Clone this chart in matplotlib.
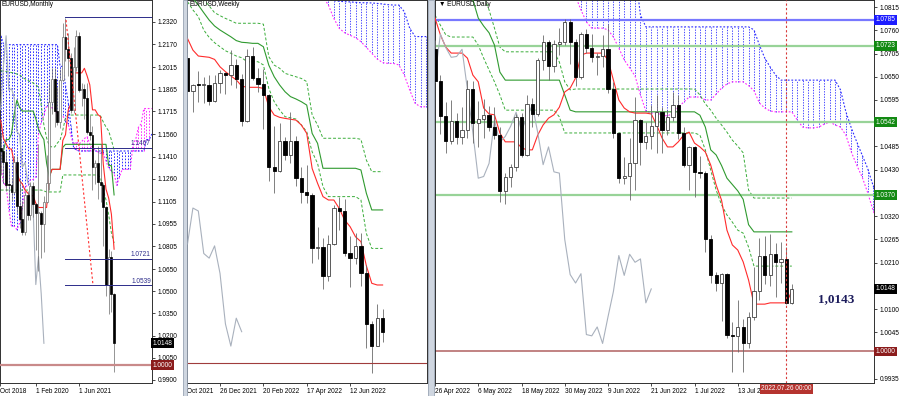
import numpy as np
import matplotlib
matplotlib.use("Agg")
import matplotlib.pyplot as plt
from matplotlib.patches import Rectangle
from matplotlib.transforms import blended_transform_factory

plt.rcParams['font.family'] = ['Liberation Sans', 'DejaVu Sans']

W, H = 900, 396

# ---------------- monthly EURUSD, Jan 2019 .. Jul 2022 ----------------
m_open = [1.1467, 1.1445, 1.1372, 1.1217, 1.1215, 1.1169, 1.1371, 1.1075, 1.0985, 1.0899, 1.1152, 1.1017,
          1.1213, 1.1092, 1.1026, 1.1031, 1.0955, 1.1101, 1.1233, 1.1778, 1.1936, 1.1721, 1.1646, 1.1926,
          1.2216, 1.2136, 1.2075, 1.1728, 1.2019, 1.2227, 1.1858, 1.1869, 1.1809, 1.1579, 1.1558, 1.1338,
          1.1370, 1.1235, 1.1218, 1.1067, 1.0545, 1.0734, 1.0484]
m_high = [1.1570, 1.1489, 1.1448, 1.1324, 1.1265, 1.1412, 1.1412, 1.1250, 1.1109, 1.1179, 1.1175, 1.1240,
          1.1239, 1.1096, 1.1495, 1.1039, 1.1146, 1.1422, 1.1909, 1.2011, 1.2011, 1.1881, 1.2004, 1.2310,
          1.2349, 1.2243, 1.2113, 1.2150, 1.2266, 1.2254, 1.1909, 1.1900, 1.1909, 1.1692, 1.1616, 1.1386,
          1.1483, 1.1495, 1.1233, 1.1077, 1.0787, 1.0773, 1.0487]
m_low = [1.1289, 1.1234, 1.1176, 1.1110, 1.1107, 1.1160, 1.1027, 1.0926, 1.0879, 1.0879, 1.0981, 1.0981,
         1.1001, 1.0778, 1.0636, 1.0727, 1.0767, 1.1097, 1.1186, 1.1696, 1.1612, 1.1622, 1.1603, 1.1924,
         1.2054, 1.1952, 1.1704, 1.1704, 1.1986, 1.1847, 1.1752, 1.1664, 1.1563, 1.1524, 1.1186, 1.1222,
         1.1121, 1.1106, 1.0806, 1.0471, 1.0349, 1.0359, 0.9952]
m_close = [1.1445, 1.1372, 1.1217, 1.1215, 1.1169, 1.1371, 1.1075, 1.0985, 1.0899, 1.1152, 1.1017, 1.1213,
           1.1092, 1.1026, 1.1031, 1.0955, 1.1101, 1.1233, 1.1778, 1.1936, 1.1721, 1.1646, 1.1926, 1.2216,
           1.2136, 1.2075, 1.1728, 1.2019, 1.2227, 1.1858, 1.1869, 1.1809, 1.1579, 1.1558, 1.1338, 1.1370,
           1.1235, 1.1218, 1.1067, 1.0545, 1.0734, 1.0484, 1.0148]
m_tenkan = [1.1656, 1.1534, 1.1496, 1.1463, 1.1461, 1.1366, 1.1299, 1.1248, 1.1225, 1.1184, 1.1164, 1.1146,
            1.1146, 1.1095, 1.1066, 1.1066, 1.1066, 1.1066, 1.1273, 1.1324, 1.1324, 1.1324, 1.1324, 1.1519,
            1.1558, 1.1723, 1.1768, 1.1976, 1.1976, 1.1976, 1.1976, 1.2007, 1.1956, 1.1895, 1.1726, 1.1726,
            1.1694, 1.1680, 1.1358, 1.1190, 1.1129, 1.1021, 1.0784]
m_kijun = [1.1448, 1.1448, 1.1525, 1.1525, 1.1563, 1.1698, 1.1792, 1.1741, 1.1718, 1.1718, 1.1718, 1.1718,
           1.1718, 1.1667, 1.1596, 1.1556, 1.1525, 1.1366, 1.1273, 1.1324, 1.1324, 1.1324, 1.1324, 1.1473,
           1.1493, 1.1493, 1.1493, 1.1493, 1.1493, 1.1493, 1.1493, 1.1493, 1.1493, 1.1493, 1.1493, 1.1493,
           1.1493, 1.1493, 1.1493, 1.1493, 1.1349, 1.1349, 1.1151]
m_level_hi = [1.1990, 1.1988, 1.1985, 1.1982, 1.1978, 1.1975, 1.1968, 1.1962, 1.1948, 1.1935, 1.1928, 1.1914,
              1.1908, 1.1894, 1.1881, 1.1759, 1.1624, 1.1536, 1.1482, 1.1475, 1.1475, 1.1502, 1.1522, 1.1590,
              1.1671, 1.1691, 1.1691, 1.1691, 1.1691, 1.1691, 1.1691, 1.1691, 1.1691, 1.1691, 1.1691, 1.1691,
              1.1691, 1.1684, 1.1644, 1.1610, 1.1583, 1.1522, 1.1455]
m_level_lo = [1.1184, 1.1184, 1.1184, 1.1184, 1.1184, 1.1184, 1.1184, 1.1184, 1.1184, 1.1184, 1.1184, 1.1184,
              1.1184, 1.1184, 1.1184, 1.1184, 1.1178, 1.1171, 1.1171, 1.1171, 1.1171, 1.1171, 1.1171, 1.1286,
              1.1286, 1.1286, 1.1286, 1.1286, 1.1286, 1.1286, 1.1286, 1.1286, 1.1286, 1.1286, 1.1286, 1.1286,
              1.1286, 1.1265, 1.1184, 1.1117, 1.1015, 1.0894, 1.0826]
m_span_a = [1.1371, 1.1230, 1.1217, 1.1052, 1.0940, 1.0940, 1.0916, 1.0960, 1.1059, 1.1205, 1.1216, 1.1255,
            1.1255, 1.1274, 1.1563, 1.1643, 1.1691, 1.1752, 1.1741, 1.1740, 1.1740, 1.1688, 1.1688, 1.1688,
            1.1647, 1.1632, 1.1552, 1.1491, 1.1511, 1.1494, 1.1512, 1.1532, 1.1546, 1.1495, 1.1472, 1.1451,
            1.1441, 1.1432, 1.1432, 1.1381, 1.1331, 1.1311, 1.1296, 1.1216, 1.1273, 1.1324, 1.1324, 1.1324,
            1.1324, 1.1496, 1.1526, 1.1608, 1.1631, 1.1735, 1.1735, 1.1735, 1.1735]
m_span_b = [1.2228, 1.2173, 1.2167, 1.2167, 1.2167, 1.2167, 1.2167, 1.2167, 1.2167, 1.2167, 1.2167, 1.2167,
            1.2167, 1.2167, 1.2167, 1.2167, 1.2167, 1.2167, 1.2167, 1.2167, 1.2167, 1.2167, 1.2020, 1.2020,
            1.1892, 1.1781, 1.1614, 1.1470, 1.1455, 1.1448, 1.1448, 1.1448, 1.1448, 1.1448, 1.1448, 1.1448,
            1.1448, 1.1448, 1.1448, 1.1448, 1.1448, 1.1448, 1.1448, 1.1448, 1.1448, 1.1448, 1.1448, 1.1448,
            1.1448, 1.1448, 1.1448, 1.1448, 1.1448, 1.1448, 1.1525, 1.1525, 1.1563]
m_hlines = [1.2353, 1.1467, 1.0721, 1.0539]
m_hline_labels = ["", "1.1467", "1.0721", "1.0539"]
m_hline_start = 24
m_trend_x = [24.2, 34.2]
m_trend_y = [1.2333, 1.0539]
m_ticks = [1.2320, 1.2170, 1.2015, 1.1865, 1.1715, 1.1560, 1.1410, 1.1260, 1.1105, 1.0955, 1.0805,
           1.0650, 1.0500, 1.0350, 1.0200, 1.0050, 0.9900]
m_date_pos = [-0.26, 13, 29]
m_date_lab = ["Oct 2018", "1 Feb 2020", "1 Jun 2021"]

# ---------------- weekly EURUSD, 14 Nov 2021 .. 24 Jul 2022 ----------------
w_open = [1.1444, 1.1288, 1.1317, 1.1315, 1.1317, 1.1239, 1.1323, 1.1370, 1.1360, 1.1411, 1.1344, 1.1144,
          1.1452, 1.1349, 1.1321, 1.1270, 1.0928, 1.0910, 1.1050, 1.0983, 1.1049, 1.0876, 1.0807, 1.0797,
          1.0545, 1.0550, 1.0413, 1.0563, 1.0733, 1.0719, 1.0518, 1.0496, 1.0554, 1.0424, 1.0185, 1.0080, 1.0212]
w_high = [1.1464, 1.1320, 1.1383, 1.1355, 1.1360, 1.1360, 1.1386, 1.1375, 1.1482, 1.1438, 1.1369, 1.1483,
          1.1495, 1.1395, 1.1390, 1.1274, 1.1121, 1.1137, 1.1070, 1.1185, 1.1076, 1.0925, 1.0936, 1.0805,
          1.0641, 1.0593, 1.0607, 1.0749, 1.0787, 1.0774, 1.0601, 1.0614, 1.0615, 1.0463, 1.0200, 1.0278, 1.0254]
w_low = [1.1249, 1.1186, 1.1235, 1.1228, 1.1222, 1.1235, 1.1279, 1.1272, 1.1313, 1.1300, 1.1121, 1.1140,
         1.1339, 1.1282, 1.1106, 1.0862, 1.0806, 1.0902, 1.0961, 1.0945, 1.0837, 1.0757, 1.0758, 1.0471,
         1.0493, 1.0349, 1.0389, 1.0560, 1.0628, 1.0508, 1.0359, 1.0470, 1.0365, 1.0072, 0.9952, 1.0079, 1.0097]
w_close = [1.1288, 1.1317, 1.1315, 1.1317, 1.1239, 1.1323, 1.1370, 1.1360, 1.1411, 1.1344, 1.1144, 1.1452,
           1.1349, 1.1321, 1.1270, 1.0928, 1.0910, 1.1050, 1.0983, 1.1049, 1.0876, 1.0807, 1.0797, 1.0545,
           1.0550, 1.0413, 1.0563, 1.0733, 1.0719, 1.0518, 1.0496, 1.0554, 1.0424, 1.0185, 1.0080, 1.0212, 1.0148]
w_tenkan = [1.1535, 1.1480, 1.1452, 1.1449, 1.1446, 1.1436, 1.1401, 1.1378, 1.1358, 1.1339, 1.1310, 1.1304,
            1.1304, 1.1304, 1.1299, 1.1212, 1.1173, 1.1162, 1.1157, 1.1153, 1.1149, 1.1126, 1.1086, 1.0920,
            1.0850, 1.0787, 1.0771, 1.0771, 1.0731, 1.0676, 1.0645, 1.0597, 1.0574, 1.0460, 1.0377, 1.0369, 1.0369]
w_kijun = [1.1756, 1.1725, 1.1693, 1.1657, 1.1622, 1.1594, 1.1575, 1.1559, 1.1543, 1.1525, 1.1517, 1.1515,
           1.1512, 1.1512, 1.1496, 1.1409, 1.1354, 1.1315, 1.1283, 1.1260, 1.1249, 1.1236, 1.1220, 1.1086,
           1.1039, 1.0921, 1.0921, 1.0921, 1.0921, 1.0921, 1.0921, 1.0921, 1.0913, 1.0803, 1.0724, 1.0724, 1.0724]
w_level_hi = [1.1812, 1.1780, 1.1741, 1.1720, 1.1689, 1.1657, 1.1643, 1.1630, 1.1619, 1.1607, 1.1607, 1.1607,
              1.1607, 1.1607, 1.1603, 1.1449, 1.1409, 1.1394, 1.1370, 1.1362, 1.1354, 1.1346, 1.1331, 1.1173,
              1.1126, 1.1063, 1.1063, 1.1063, 1.1063, 1.1063, 1.1063, 1.1063, 1.1058, 1.0960, 1.0905, 1.0905, 1.0905]
w_level_lo = [1.1709, 1.1670, 1.1638, 1.1575, 1.1540, 1.1515, 1.1496, 1.1477, 1.1465, 1.1452, 1.1444, 1.1425,
              1.1425, 1.1425, 1.1410, 1.1299, 1.1236, 1.1197, 1.1165, 1.1160, 1.1154, 1.1126, 1.1094, 1.0999,
              1.0944, 1.0834, 1.0787, 1.0787, 1.0787, 1.0787, 1.0787, 1.0787, 1.0771, 1.0613, 1.0542, 1.0542, 1.0542]
w_cloud_start = 25
w_span_a = [1.1733, 1.1693, 1.1630, 1.1583, 1.1562, 1.1550, 1.1539, 1.1520, 1.1493, 1.1465, 1.1438, 1.1421,
            1.1417, 1.1417, 1.1410, 1.1362, 1.1291, 1.1228, 1.1212, 1.1212, 1.1212]
w_span_b = [1.1749, 1.1717, 1.1714, 1.1711, 1.1709, 1.1708, 1.1706, 1.1704, 1.1704, 1.1703, 1.1701, 1.1698,
            1.1695, 1.1693, 1.1693, 1.1662, 1.1583, 1.1544, 1.1544, 1.1544, 1.1544]
w_date_pos = [-0.09, 6, 14, 22, 30]
w_date_lab = ["Oct 2021", "26 Dec 2021", "20 Feb 2022", "17 Apr 2022", "12 Jun 2022"]

# ---------------- daily EURUSD, 26 Apr 2022 .. 27 Jul 2022 ----------------
d_open = [1.0715, 1.0640, 1.0557, 1.0497, 1.0545, 1.0507, 1.0523, 1.0622, 1.0541, 1.0551, 1.0560, 1.0530,
          1.0513, 1.0380, 1.0412, 1.0437, 1.0554, 1.0464, 1.0585, 1.0561, 1.0690, 1.0733, 1.0676, 1.0727,
          1.0732, 1.0780, 1.0733, 1.0650, 1.0751, 1.0719, 1.0696, 1.0698, 1.0715, 1.0620, 1.0518, 1.0410,
          1.0414, 1.0445, 1.0547, 1.0495, 1.0509, 1.0533, 1.0566, 1.0523, 1.0554, 1.0583, 1.0518, 1.0442,
          1.0484, 1.0425, 1.0422, 1.0265, 1.0182, 1.0162, 1.0184, 1.0040, 1.0037, 1.0058, 1.0019, 1.0082,
          1.0142, 1.0227, 1.0180, 1.0230, 1.0211, 1.0219, 1.0115]
d_high = [1.0737, 1.0654, 1.0591, 1.0594, 1.0565, 1.0578, 1.0642, 1.0641, 1.0592, 1.0598, 1.0580, 1.0578,
          1.0530, 1.0422, 1.0444, 1.0563, 1.0564, 1.0608, 1.0599, 1.0695, 1.0748, 1.0737, 1.0737, 1.0765,
          1.0787, 1.0786, 1.0739, 1.0755, 1.0764, 1.0750, 1.0707, 1.0748, 1.0774, 1.0637, 1.0519, 1.0460,
          1.0506, 1.0601, 1.0550, 1.0544, 1.0582, 1.0606, 1.0579, 1.0572, 1.0615, 1.0606, 1.0532, 1.0486,
          1.0487, 1.0463, 1.0428, 1.0276, 1.0188, 1.0186, 1.0185, 1.0070, 1.0122, 1.0078, 1.0094, 1.0200,
          1.0269, 1.0273, 1.0278, 1.0256, 1.0258, 1.0248, 1.0160]
d_low = [1.0637, 1.0514, 1.0470, 1.0491, 1.0490, 1.0492, 1.0505, 1.0493, 1.0484, 1.0504, 1.0521, 1.0503,
         1.0354, 1.0349, 1.0389, 1.0428, 1.0460, 1.0462, 1.0532, 1.0558, 1.0666, 1.0642, 1.0662, 1.0701,
         1.0725, 1.0680, 1.0627, 1.0644, 1.0707, 1.0684, 1.0653, 1.0674, 1.0612, 1.0506, 1.0398, 1.0397,
         1.0359, 1.0382, 1.0442, 1.0479, 1.0480, 1.0469, 1.0469, 1.0511, 1.0546, 1.0503, 1.0436, 1.0382,
         1.0365, 1.0410, 1.0236, 1.0162, 1.0144, 1.0072, 1.0031, 0.9952, 0.9998, 0.9952, 1.0008, 1.0074,
         1.0122, 1.0160, 1.0154, 1.0130, 1.0162, 1.0112, 1.0112]
d_close = [1.0640, 1.0557, 1.0497, 1.0545, 1.0507, 1.0523, 1.0622, 1.0541, 1.0551, 1.0560, 1.0530, 1.0513,
           1.0380, 1.0412, 1.0437, 1.0554, 1.0464, 1.0585, 1.0561, 1.0690, 1.0733, 1.0676, 1.0727, 1.0732,
           1.0780, 1.0733, 1.0650, 1.0751, 1.0719, 1.0696, 1.0698, 1.0715, 1.0620, 1.0518, 1.0410, 1.0414,
           1.0445, 1.0547, 1.0495, 1.0509, 1.0533, 1.0566, 1.0523, 1.0554, 1.0583, 1.0518, 1.0442, 1.0484,
           1.0425, 1.0422, 1.0265, 1.0182, 1.0162, 1.0184, 1.0040, 1.0037, 1.0058, 1.0019, 1.0082, 1.0142,
           1.0227, 1.0180, 1.0230, 1.0211, 1.0219, 1.0115, 1.0148]
d_tenkan = [1.0789, 1.0749, 1.0720, 1.0706, 1.0706, 1.0706, 1.0694, 1.0654, 1.0638, 1.0576, 1.0562, 1.0560,
            1.0517, 1.0496, 1.0496, 1.0496, 1.0482, 1.0477, 1.0477, 1.0512, 1.0536, 1.0552, 1.0560, 1.0578,
            1.0614, 1.0623, 1.0647, 1.0701, 1.0706, 1.0706, 1.0706, 1.0706, 1.0690, 1.0642, 1.0595, 1.0576,
            1.0567, 1.0564, 1.0564, 1.0564, 1.0562, 1.0536, 1.0505, 1.0484, 1.0484, 1.0496, 1.0512, 1.0519,
            1.0493, 1.0484, 1.0472, 1.0441, 1.0394, 1.0358, 1.0287, 1.0252, 1.0240, 1.0212, 1.0169, 1.0112,
            1.0112, 1.0112, 1.0115, 1.0115, 1.0115, 1.0115, 1.0143]
d_kijun = [1.0911, 1.0911, 1.0911, 1.0911, 1.0911, 1.0911, 1.0911, 1.0832, 1.0789, 1.0770, 1.0754, 1.0725,
           1.0661, 1.0642, 1.0642, 1.0642, 1.0642, 1.0642, 1.0642, 1.0642, 1.0642, 1.0642, 1.0642, 1.0642,
           1.0607, 1.0571, 1.0567, 1.0567, 1.0567, 1.0567, 1.0567, 1.0567, 1.0567, 1.0567, 1.0567, 1.0567,
           1.0567, 1.0567, 1.0567, 1.0567, 1.0567, 1.0567, 1.0567, 1.0567, 1.0567, 1.0567, 1.0567, 1.0567,
           1.0567, 1.0559, 1.0531, 1.0477, 1.0465, 1.0440, 1.0410, 1.0395, 1.0380, 1.0360, 1.0300, 1.0283,
           1.0283, 1.0283, 1.0283, 1.0283, 1.0283, 1.0283, 1.0283]
d_level_hi = [1.0900, 1.0900, 1.0900, 1.0900, 1.0900, 1.0900, 1.0900, 1.0900, 1.0900, 1.0843, 1.0808, 1.0765,
              1.0720, 1.0709, 1.0709, 1.0709, 1.0709, 1.0709, 1.0709, 1.0709, 1.0709, 1.0709, 1.0709, 1.0685,
              1.0638, 1.0619, 1.0621, 1.0621, 1.0621, 1.0621, 1.0621, 1.0621, 1.0621, 1.0621, 1.0621, 1.0621,
              1.0621, 1.0621, 1.0621, 1.0621, 1.0621, 1.0621, 1.0621, 1.0621, 1.0621, 1.0621, 1.0621, 1.0621,
              1.0621, 1.0607, 1.0586, 1.0571, 1.0552, 1.0536, 1.0519, 1.0500, 1.0486, 1.0470, 1.0382, 1.0363,
              1.0363, 1.0363, 1.0363, 1.0363, 1.0363, 1.0363, 1.0363]
d_level_lo = [1.0796, 1.0772, 1.0749, 1.0744, 1.0744, 1.0744, 1.0744, 1.0744, 1.0725, 1.0694, 1.0666, 1.0638,
              1.0607, 1.0571, 1.0571, 1.0571, 1.0571, 1.0571, 1.0571, 1.0571, 1.0571, 1.0571, 1.0571, 1.0555,
              1.0517, 1.0517, 1.0517, 1.0517, 1.0517, 1.0517, 1.0517, 1.0517, 1.0517, 1.0517, 1.0517, 1.0517,
              1.0517, 1.0517, 1.0517, 1.0517, 1.0517, 1.0517, 1.0517, 1.0517, 1.0517, 1.0517, 1.0517, 1.0517,
              1.0517, 1.0512, 1.0477, 1.0429, 1.0382, 1.0347, 1.0323, 1.0306, 1.0287, 1.0280, 1.0247, 1.0202,
              1.0202, 1.0202, 1.0202, 1.0202, 1.0202, 1.0202, 1.0202]
d_span_a = [1.0890] * 26 + [
    1.0840, 1.0808, 1.0780, 1.0765, 1.0765, 1.0765, 1.0761, 1.0744, 1.0718, 1.0690, 1.0671, 1.0652,
    1.0607, 1.0569, 1.0564, 1.0564, 1.0560, 1.0557, 1.0564, 1.0578, 1.0590, 1.0602, 1.0602, 1.0602,
    1.0595, 1.0595, 1.0609, 1.0623, 1.0633, 1.0638, 1.0638, 1.0638, 1.0629, 1.0617, 1.0588, 1.0576,
    1.0569, 1.0567, 1.0567, 1.0567, 1.0567, 1.0548, 1.0531, 1.0529, 1.0529, 1.0531, 1.0538, 1.0543,
    1.0536, 1.0531, 1.0512, 1.0472, 1.0441, 1.0413, 1.0377, 1.0335, 1.0299]
d_span_b = [1.0900] * 38 + [
    1.0796, 1.0768, 1.0768, 1.0768, 1.0768, 1.0768, 1.0768, 1.0768, 1.0768, 1.0768, 1.0768, 1.0768,
    1.0768, 1.0768, 1.0768, 1.0768, 1.0768, 1.0768, 1.0768, 1.0768, 1.0768, 1.0761, 1.0725, 1.0694,
    1.0673, 1.0654, 1.0642, 1.0642, 1.0642, 1.0642, 1.0642, 1.0642, 1.0642, 1.0642, 1.0642, 1.0642,
    1.0642, 1.0619, 1.0567, 1.0529, 1.0496, 1.0465, 1.0434, 1.0394, 1.0358]
d_levels = [1.0785, 1.0723, 1.0542, 1.0370, 1.0000]
d_level_kind = ["blue", "green", "green", "green", "red"]
d_ticks = [1.0815, 1.0760, 1.0705, 1.0650, 1.0595, 1.0485, 1.0430, 1.0320, 1.0265,
           1.0210, 1.0100, 1.0045, 0.9935]
d_date_pos = [0, 8, 16, 24, 32, 40, 48, 56]
d_date_lab = ["26 Apr 2022", "6 May 2022", "18 May 2022", "30 May 2022", "9 Jun 2022",
              "21 Jun 2022", "1 Jul 2022", "13 Jul 2022"]
d_cursor = 65
d_cursor_lab = "2022.07.26 00:00"
last_price = 1.0148
tenkan_note = "1,0143"

# ---------------- styles ----------------
FS = 4.7
RED = '#ff2b2b'
GREEN = '#2f9a2f'
GREEN_D = '#3aad3a'
CHIKOU = '#a9b1bd'
CL_BLUE = '#2b2bff'
CL_MAG = '#ff2bff'
WICK = '#6a6a6a'
DOT = (0, (1.6, 1.6))
DASH = (0, (3, 2))


def px_axes(fig, x0, y0, x1, y1):
    return fig.add_axes([x0 / W, 1 - y1 / H, (x1 - x0) / W, (y1 - y0) / H])


def draw_candles(ax, o, h, l, c, width, min_body, edge='#404040', lw=0.6):
    x = np.arange(len(o))
    o, h, l, c = map(np.asarray, (o, h, l, c))
    ax.vlines(x, l, h, colors=WICK, lw=lw, zorder=4)
    lo = np.minimum(o, c)
    ht = np.maximum(np.abs(c - o), min_body)
    bull = c >= o
    ax.bar(x[bull], ht[bull], width, bottom=lo[bull], color='white', edgecolor=edge, lw=lw, zorder=5)
    ax.bar(x[~bull], ht[~bull], width, bottom=lo[~bull], color='black', edgecolor='black', lw=lw, zorder=5)


def draw_cloud(ax, start, a, b, lw=0.6):
    x = np.arange(len(a)) + start
    a = np.asarray(a)
    b = np.asarray(b)
    dn = b >= a
    ax.vlines(x[dn], a[dn], b[dn], colors=CL_BLUE, linestyles=[DOT], lw=lw, zorder=1)
    ax.vlines(x[~dn], b[~dn], a[~dn], colors=CL_MAG, linestyles=[DOT], lw=lw, zorder=1)
    ax.plot(x, b, color=CL_BLUE, ls=DOT, lw=0.8, zorder=1)
    ax.plot(x, a, color=CL_MAG, ls=DOT, lw=0.8, zorder=1)


def ichimoku_lines(ax, tenkan, kijun, lvl_hi, lvl_lo, close, lw=0.8):
    x = np.arange(len(tenkan))
    ax.plot(x, lvl_hi, color=GREEN_D, ls=DASH, lw=0.7, zorder=2)
    ax.plot(x, lvl_lo, color=GREEN_D, ls=DASH, lw=0.7, zorder=2)
    ax.plot(x, kijun, color=GREEN, lw=lw, zorder=3)
    ax.plot(x, tenkan, color=RED, lw=lw, zorder=3)
    chik = close[26:]
    ax.plot(np.arange(len(chik)), chik, color=CHIKOU, lw=lw, zorder=3)


def frame(ax, title, date_pos, date_lab):
    for s in ax.spines.values():
        s.set_color('#303030')
        s.set_linewidth(0.7)
    ax.text(0.01, 0.997, title, transform=ax.transAxes, va='top', ha='left', fontsize=FS, zorder=20)
    ax.set_xticks(date_pos)
    ax.set_xticklabels(date_lab, ha='left', fontsize=FS)
    ax.tick_params(axis='x', direction='out', length=2, width=0.5, pad=1.5)


def price_box(ax, y, text, fc):
    ax.text(1.004, y, text, transform=ax.get_yaxis_transform(), ha='left', va='center',
            fontsize=FS, color='white', zorder=30, clip_on=False,
            bbox=dict(boxstyle='square,pad=0.22', fc=fc, ec='none'))


fig = plt.figure(figsize=(W / 100, H / 100), dpi=100)
fig.patch.set_facecolor('white')
for x0, x1 in [(183, 187), (428, 434)]:
    fig.add_artist(Rectangle((x0 / W, 0), (x1 - x0) / W, 1, transform=fig.transFigure,
                             fc='#cfd6e0', ec='#8a96a8', lw=0.5))

# ---- monthly panel ----
axm = px_axes(fig, 0, 0, 152, 383)
axm.set_xlim(-0.26, 56.04)
axm.set_ylim(0.98796, 1.24687)
draw_cloud(axm, 0, m_span_a, m_span_b, lw=0.7)
ichimoku_lines(axm, m_tenkan, m_kijun, m_level_hi, m_level_lo, m_close)
draw_candles(axm, m_open, m_high, m_low, m_close, 0.7, 0.0007, edge='#707070', lw=0.5)
for y, lab in zip(m_hlines, m_hline_labels):
    axm.plot([m_hline_start, 56.04], [y, y], color='#2c2c8a', lw=0.7, zorder=6)
    if lab:
        axm.text(55.6, y + 0.0006, lab, ha='right', va='bottom', fontsize=FS, color='#2c2c8a', zorder=7)
axm.plot(m_trend_x, m_trend_y, color=RED, ls=(0, (2, 2)), lw=0.8, zorder=6)
axm.axhline(1.0, color='#c98a8a', lw=1.6, zorder=6)
axm.yaxis.tick_right()
axm.set_yticks(m_ticks)
axm.set_yticklabels([f"{v:.4f}" for v in m_ticks], fontsize=FS)
axm.tick_params(axis='y', direction='out', length=2, width=0.5, pad=2)
frame(axm, "EURUSD,Monthly", m_date_pos, m_date_lab)
price_box(axm, last_price, f"{last_price:.4f}", 'black')
price_box(axm, 1.0, "1.0000", '#8b1c1c')

# ---- weekly panel ----
axw = px_axes(fig, 187, 0, 427, 383)
axw.set_xlim(-0.09, 44.19)
axw.set_ylim(0.99054, 1.1717)
draw_cloud(axw, w_cloud_start, w_span_a, w_span_b)
ichimoku_lines(axw, w_tenkan, w_kijun, w_level_hi, w_level_lo, w_close)
draw_candles(axw, w_open, w_high, w_low, w_close, 0.62, 0.0005)
axw.axhline(1.0, color='#a03c3c', lw=0.8, zorder=6)
axw.set_yticks([])
frame(axw, "EURUSD,Weekly", w_date_pos, w_date_lab)

# ---- daily panel ----
axd = px_axes(fig, 435, 0, 874, 383)
axd.set_xlim(0.37, 81.2)
axd.set_ylim(0.99254, 1.08316)
draw_cloud(axd, 0, d_span_a, d_span_b)
ichimoku_lines(axd, d_tenkan, d_kijun, d_level_hi, d_level_lo, d_close)
draw_candles(axd, d_open, d_high, d_low, d_close, 0.6, 0.00025)
lvl_color = {"blue": '#7878ff', "green": '#98d398', "red": '#b06060'}
box_color = {"blue": '#1c1cff', "green": '#138a13', "red": '#8b1c1c'}
for y, kind in zip(d_levels, d_level_kind):
    axd.axhline(y, color=lvl_color[kind], lw=1.6 if kind != "red" else 1.1, zorder=2)
axd.axvline(d_cursor, color='#d83a3a', ls=(0, (2, 2)), lw=0.8, zorder=7)
axd.yaxis.tick_right()
axd.set_yticks(d_ticks)
axd.set_yticklabels([f"{v:.4f}" for v in d_ticks], fontsize=FS)
axd.tick_params(axis='y', direction='out', length=2, width=0.5, pad=2)
frame(axd, "\u25bc EURUSD,Daily", d_date_pos, d_date_lab)
for y, kind in zip(d_levels, d_level_kind):
    price_box(axd, y, f"{y:.4f}", box_color[kind])
price_box(axd, last_price, f"{last_price:.4f}", 'black')
axd.text(0.913, 0.219, tenkan_note, transform=axd.transAxes, ha='center', va='center',
         fontsize=9.5, fontweight='bold', family='Liberation Serif', color='#1c1c5c', zorder=20)
axd.text(d_cursor, -0.006, d_cursor_lab, transform=blended_transform_factory(axd.transData, axd.transAxes),
         ha='center', va='top', fontsize=FS, color='white', zorder=30, clip_on=False,
         bbox=dict(boxstyle='square,pad=0.25', fc='#b5342f', ec='none'))

fig.savefig("out.png", dpi=100, facecolor='white')
